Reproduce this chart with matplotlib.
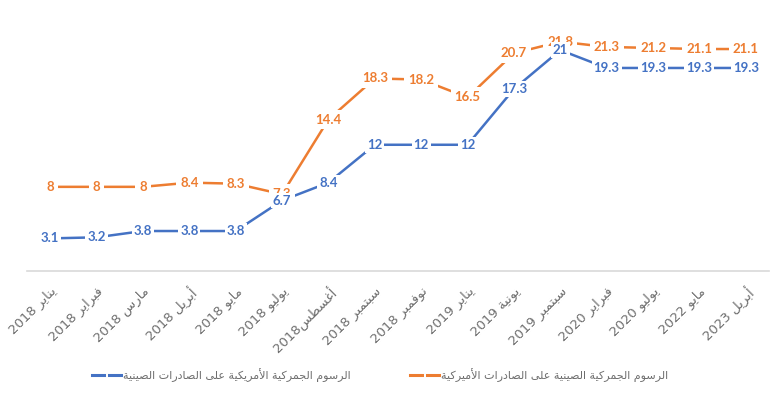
import re
import matplotlib
matplotlib.use("Agg")
import matplotlib.pyplot as plt
from matplotlib.lines import Line2D

# ---------------- data ----------------
categories = ["يناير 2018", "فبراير 2018", "مارس 2018", "أبريل 2018", "مايو 2018",
              "يوليو 2018", "أغسطس2018", "سبتمبر 2018", "نوفمبر 2018", "يناير 2019",
              "يونية 2019", "سبتمبر 2019", "فبراير 2020", "يوليو 2020", "مايو 2022",
              "أبريل 2023"]
us_on_china = [3.1, 3.2, 3.8, 3.8, 3.8, 6.7, 8.4, 12, 12, 12, 17.3, 21, 19.3, 19.3, 19.3, 19.3]
china_on_us = [8, 8, 8, 8.4, 8.3, 7.3, 14.4, 18.3, 18.2, 16.5, 20.7, 21.8, 21.3, 21.2, 21.1, 21.1]
label_us = "الرسوم الجمركية الأمريكية على الصادرات الصينية"
label_cn = "الرسوم الجمركية الصينية على الصادرات الأميركية"

# ---------------- minimal Arabic shaping ----------------
FORMS = {
    'ء': (0xFE80,), 'آ': (0xFE81, 0xFE82), 'أ': (0xFE83, 0xFE84), 'ؤ': (0xFE85, 0xFE86),
    'إ': (0xFE87, 0xFE88), 'ئ': (0xFE89, 0xFE8A, 0xFE8B, 0xFE8C), 'ا': (0xFE8D, 0xFE8E),
    'ب': (0xFE8F, 0xFE90, 0xFE91, 0xFE92), 'ة': (0xFE93, 0xFE94),
    'ت': (0xFE95, 0xFE96, 0xFE97, 0xFE98), 'ث': (0xFE99, 0xFE9A, 0xFE9B, 0xFE9C),
    'ج': (0xFE9D, 0xFE9E, 0xFE9F, 0xFEA0), 'ح': (0xFEA1, 0xFEA2, 0xFEA3, 0xFEA4),
    'خ': (0xFEA5, 0xFEA6, 0xFEA7, 0xFEA8), 'د': (0xFEA9, 0xFEAA), 'ذ': (0xFEAB, 0xFEAC),
    'ر': (0xFEAD, 0xFEAE), 'ز': (0xFEAF, 0xFEB0), 'س': (0xFEB1, 0xFEB2, 0xFEB3, 0xFEB4),
    'ش': (0xFEB5, 0xFEB6, 0xFEB7, 0xFEB8), 'ص': (0xFEB9, 0xFEBA, 0xFEBB, 0xFEBC),
    'ض': (0xFEBD, 0xFEBE, 0xFEBF, 0xFEC0), 'ط': (0xFEC1, 0xFEC2, 0xFEC3, 0xFEC4),
    'ظ': (0xFEC5, 0xFEC6, 0xFEC7, 0xFEC8), 'ع': (0xFEC9, 0xFECA, 0xFECB, 0xFECC),
    'غ': (0xFECD, 0xFECE, 0xFECF, 0xFED0), 'ف': (0xFED1, 0xFED2, 0xFED3, 0xFED4),
    'ق': (0xFED5, 0xFED6, 0xFED7, 0xFED8), 'ك': (0xFED9, 0xFEDA, 0xFEDB, 0xFEDC),
    'ل': (0xFEDD, 0xFEDE, 0xFEDF, 0xFEE0), 'م': (0xFEE1, 0xFEE2, 0xFEE3, 0xFEE4),
    'ن': (0xFEE5, 0xFEE6, 0xFEE7, 0xFEE8), 'ه': (0xFEE9, 0xFEEA, 0xFEEB, 0xFEEC),
    'و': (0xFEED, 0xFEEE), 'ى': (0xFEEF, 0xFEF0), 'ي': (0xFEF1, 0xFEF2, 0xFEF3, 0xFEF4),
}
LAM_ALEF = {'ا': (0xFEFB, 0xFEFC), 'أ': (0xFEF7, 0xFEF8), 'إ': (0xFEF9, 0xFEFA), 'آ': (0xFEF5, 0xFEF6)}


def dual(c):
    return c in FORMS and len(FORMS[c]) == 4


def shape(text):
    tokens = []
    i = 0
    while i < len(text):
        c = text[i]
        if c == 'ل' and i + 1 < len(text) and text[i + 1] in LAM_ALEF:
            tokens.append(('LA', text[i + 1]))
            i += 2
        else:
            tokens.append(('C', c))
            i += 1
    out = []
    for k, (kind, c) in enumerate(tokens):
        prev = tokens[k - 1] if k > 0 else None
        nxt = tokens[k + 1] if k + 1 < len(tokens) else None
        prev_join = prev is not None and prev[0] == 'C' and dual(prev[1])
        if kind == 'LA':
            f = LAM_ALEF[c]
            out.append(chr(f[1] if prev_join else f[0]))
            continue
        if c not in FORMS:
            out.append(c)
            continue
        f = FORMS[c]
        next_join = dual(c) and nxt is not None and (nxt[0] == 'LA' or nxt[1] in FORMS)
        if len(f) == 1:
            out.append(chr(f[0]))
        elif len(f) == 2:
            out.append(chr(f[1] if prev_join else f[0]))
        else:
            if prev_join and next_join:
                out.append(chr(f[3]))
            elif prev_join:
                out.append(chr(f[1]))
            elif next_join:
                out.append(chr(f[2]))
            else:
                out.append(chr(f[0]))
    s = ''.join(out)[::-1]
    return re.sub(r'[0-9.]+', lambda m: m.group(0)[::-1], s)


# ---------------- style ----------------
plt.rcParams['font.family'] = ['DejaVu Sans']
BLUE = '#4472C4'
ORANGE = '#ED7D31'
GRAY = '#6E6E6E'

fig = plt.figure(figsize=(7.7, 3.99), dpi=100)
ax = fig.add_axes([27 / 770, 1 - 271 / 399, 742 / 770, 263 / 399])
x = list(range(len(categories)))

ax.plot(x, china_on_us, color=ORANGE, lw=1.8, solid_capstyle='butt', zorder=2)
ax.plot(x, us_on_china, color=BLUE, lw=1.8, solid_capstyle='butt', zorder=2)

for xi, v in zip(x, china_on_us):
    ax.text(xi, v, f"{v:g}", color=ORANGE, ha='center', va='center', fontsize=9.5,
            fontweight='bold', family=['Lato', 'DejaVu Sans'], zorder=3,
            bbox=dict(boxstyle='square,pad=0.3', fc='white', ec='none'))
for xi, v in zip(x, us_on_china):
    ax.text(xi, v, f"{v:g}", color=BLUE, ha='center', va='center', fontsize=9.5,
            fontweight='bold', family=['Lato', 'DejaVu Sans'], zorder=4,
            bbox=dict(boxstyle='square,pad=0.15', fc='white', ec='none'))

ax.set_xlim(-0.5, len(categories) - 0.5)
ax.set_ylim(0, 25)
ax.set_yticks([])
ax.set_xticks(x)
ax.set_xticklabels([shape(c) for c in categories], rotation=45, ha='right',
                   va='top', rotation_mode='anchor', fontsize=9.5, color=GRAY)
ax.tick_params(axis='x', length=0, pad=10)
for side in ['left', 'right', 'top']:
    ax.spines[side].set_visible(False)
ax.spines['bottom'].set_color('#D9D9D9')
ax.spines['bottom'].set_linewidth(1.2)

# ---------------- legend ----------------
ly = 1 - 375 / 399


def legend_entry(x0, color, text):
    fig.add_artist(Line2D([x0 / 770, (x0 + 12) / 770], [ly, ly], color=color, lw=2.2,
                          transform=fig.transFigure))
    fig.add_artist(Line2D([(x0 + 17) / 770, (x0 + 29) / 770], [ly, ly], color=color, lw=2.2,
                          transform=fig.transFigure))
    fig.text((x0 + 31) / 770, ly, shape(text), ha='left', va='center', fontsize=8,
             color=GRAY)


legend_entry(92, BLUE, label_us)
legend_entry(410, ORANGE, label_cn)

fig.savefig('out.png', dpi=100, facecolor='white')
